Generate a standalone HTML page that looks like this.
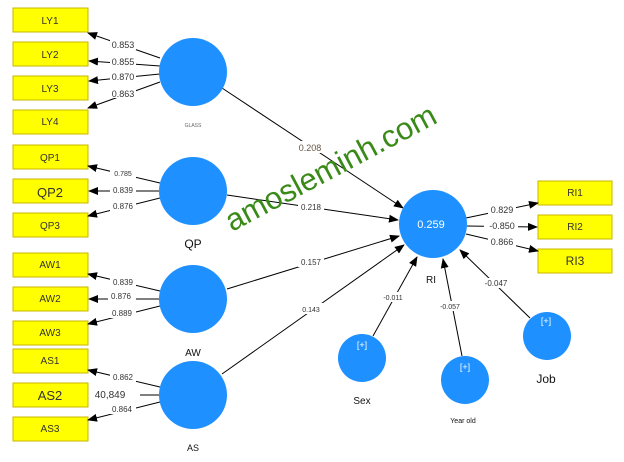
<!DOCTYPE html>
<html><head><meta charset="utf-8"><style>
html,body{margin:0;padding:0;background:#fff;}
svg{display:block;font-family:"Liberation Sans",Arial,sans-serif;}
.b{fill:#ffff00;stroke:#c8b400;stroke-width:1}
.c{fill:#1e90ff}
.l{stroke:#000;stroke-width:1;fill:none}
.t{font-size:9px;fill:#333;text-anchor:middle}
.bt{font-size:10px;fill:#333;text-anchor:middle}
.lb{fill:#fff}
</style></head><body>
<svg width="624" height="462" viewBox="0 0 624 462">
<defs><marker id="a" markerWidth="10" markerHeight="8" refX="9" refY="4" orient="auto" markerUnits="userSpaceOnUse"><path d="M0,0 L10,4 L0,8 z" fill="#000"/></marker></defs>
<!-- boxes -->
<g>
<rect class="b" x="13" y="8" width="75" height="24"/><text class="bt" x="50" y="24">LY1</text>
<rect class="b" x="13" y="42" width="75" height="24"/><text class="bt" x="50" y="58" font-size="9">LY2</text>
<rect class="b" x="13" y="76" width="75" height="24"/><text class="bt" x="50" y="92">LY3</text>
<rect class="b" x="13" y="110" width="75" height="24"/><text class="bt" x="50" y="125" font-size="9">LY4</text>
<rect class="b" x="13" y="145" width="75" height="24"/><text class="bt" x="50" y="161">QP1</text>
<rect class="b" x="13" y="179" width="75" height="24"/><text class="bt" x="50" y="197" style="font-size:13px">QP2</text>
<rect class="b" x="13" y="213" width="75" height="24"/><text class="bt" x="50" y="229">QP3</text>
<rect class="b" x="13" y="253" width="75" height="24"/><text class="bt" x="50" y="268" font-size="9">AW1</text>
<rect class="b" x="13" y="287" width="75" height="24"/><text class="bt" x="50" y="302">AW2</text>
<rect class="b" x="13" y="321" width="75" height="24"/><text class="bt" x="50" y="336">AW3</text>
<rect class="b" x="13" y="349" width="75" height="24"/><text class="bt" x="50" y="364" font-size="9">AS1</text>
<rect class="b" x="13" y="383" width="75" height="24"/><text class="bt" x="50" y="400" style="font-size:13px">AS2</text>
<rect class="b" x="13" y="417" width="75" height="24"/><text class="bt" x="50" y="432">AS3</text>
<rect class="b" x="538" y="181" width="74" height="24"/><text class="bt" x="575" y="196" font-size="9">RI1</text>
<rect class="b" x="538" y="215" width="74" height="24"/><text class="bt" x="575" y="230" font-size="9">RI2</text>
<rect class="b" x="538" y="249" width="74" height="24"/><text class="bt" x="575" y="265" style="font-size:12px">RI3</text>
</g>
<!-- outer loadings -->
<g class="l">
<line x1="160" y1="58" x2="88" y2="33" marker-end="url(#a)"/>
<line x1="160" y1="66" x2="89" y2="61" marker-end="url(#a)"/>
<line x1="160" y1="74" x2="89" y2="81" marker-end="url(#a)"/>
<line x1="160" y1="82" x2="88" y2="108" marker-end="url(#a)"/>
<line x1="160" y1="183" x2="88" y2="166" marker-end="url(#a)"/>
<line x1="160" y1="191" x2="89" y2="191" marker-end="url(#a)"/>
<line x1="160" y1="198" x2="88" y2="216" marker-end="url(#a)"/>
<line x1="160" y1="291" x2="88" y2="274" marker-end="url(#a)"/>
<line x1="160" y1="299" x2="89" y2="299" marker-end="url(#a)"/>
<line x1="160" y1="306" x2="88" y2="324" marker-end="url(#a)"/>
<line x1="160" y1="387" x2="88" y2="370" marker-end="url(#a)"/>
<line x1="160" y1="395" x2="140" y2="395"/>
<line x1="160" y1="402" x2="88" y2="420" marker-end="url(#a)"/>
<line x1="466" y1="218" x2="538" y2="203" marker-end="url(#a)"/>
<line x1="467" y1="226" x2="537" y2="227" marker-end="url(#a)"/>
<line x1="466" y1="234" x2="538" y2="251" marker-end="url(#a)"/>
<!-- inner paths -->
<line x1="222" y1="88" x2="403" y2="208" marker-end="url(#a)"/>
<line x1="227" y1="195" x2="398" y2="220" marker-end="url(#a)"/>
<line x1="227" y1="289" x2="399" y2="236" marker-end="url(#a)"/>
<line x1="222" y1="374" x2="404" y2="245" marker-end="url(#a)"/>
<line x1="373" y1="336" x2="417" y2="257" marker-end="url(#a)"/>
<line x1="462" y1="356" x2="443" y2="259" marker-end="url(#a)"/>
<line x1="530" y1="318" x2="460" y2="250" marker-end="url(#a)"/>
</g>
<!-- circles -->
<circle class="c" cx="193" cy="72" r="34"/>
<circle class="c" cx="193" cy="191" r="34"/>
<circle class="c" cx="193" cy="299" r="34"/>
<circle class="c" cx="193" cy="395" r="34"/>
<circle class="c" cx="433" cy="224" r="34"/>
<circle class="c" cx="362" cy="358" r="24"/>
<circle class="c" cx="465" cy="380" r="24"/>
<circle class="c" cx="547" cy="336" r="24"/>
<text x="431" y="228" style="font-size:11px;fill:#fff;text-anchor:middle">0.259</text>
<text x="362" y="348" style="font-size:9px;fill:#fff;text-anchor:middle">[+]</text>
<text x="465" y="370" style="font-size:9px;fill:#fff;text-anchor:middle">[+]</text>
<text x="546" y="324" style="font-size:9px;fill:#fff;text-anchor:middle">[+]</text>
<!-- construct labels -->
<text x="193" y="127" style="font-size:5px;fill:#666;text-anchor:middle">GLASS</text>
<text x="193" y="248" style="font-size:12px;fill:#111;text-anchor:middle">QP</text>
<text x="193" y="356" style="font-size:10px;fill:#111;text-anchor:middle">AW</text>
<text x="193" y="451" style="font-size:9px;fill:#111;text-anchor:middle">AS</text>
<text x="431" y="283" style="font-size:10px;fill:#111;text-anchor:middle">RI</text>
<text x="362" y="404" style="font-size:10px;fill:#111;text-anchor:middle">Sex</text>
<text x="463" y="423" style="font-size:7px;fill:#111;text-anchor:middle">Year old</text>
<text x="546" y="383" style="font-size:12px;fill:#111;text-anchor:middle">Job</text>
<!-- loading labels -->
<g class="t">
<rect class="lb" x="110" y="40" width="26" height="10"/><text x="123" y="48">0.853</text>
<rect class="lb" x="110" y="57" width="26" height="10"/><text x="123" y="65">0.855</text>
<rect class="lb" x="110" y="72" width="26" height="10"/><text x="123" y="80">0.870</text>
<rect class="lb" x="110" y="88" width="26" height="10"/><text x="123" y="97">0.863</text>
<rect class="lb" x="110" y="168" width="26" height="10"/><text x="123" y="176" style="font-size:7px">0.785</text>
<rect class="lb" x="110" y="185" width="26" height="10"/><text x="123" y="193" style="font-size:8px">0.839</text>
<rect class="lb" x="110" y="201" width="26" height="10"/><text x="123" y="209" style="font-size:8px">0.876</text>
<rect class="lb" x="110" y="277" width="26" height="10"/><text x="123" y="285" style="font-size:8px">0.839</text>
<rect class="lb" x="108" y="292" width="28" height="10"/><text x="121" y="299" style="font-size:8px">0.876</text>
<rect class="lb" x="108" y="308" width="28" height="10"/><text x="122" y="316" style="font-size:8px">0.889</text>
<rect class="lb" x="110" y="372" width="26" height="10"/><text x="123" y="380" style="font-size:8px">0.862</text>
<rect class="lb" x="92" y="388" width="46" height="12"/><text x="110" y="398" style="font-size:10px">40,849</text>
<rect class="lb" x="108" y="404" width="28" height="10"/><text x="122" y="412" style="font-size:8px">0.864</text>
<rect class="lb" x="295" y="141" width="30" height="12"/><text x="310" y="151" style="font-size:9px;fill:#654">0.208</text>
<rect class="lb" x="298" y="201" width="26" height="11"/><text x="311" y="210" style="font-size:8px">0.218</text>
<rect class="lb" x="298" y="256" width="26" height="11"/><text x="311" y="265" style="font-size:8px">0.157</text>
<rect class="lb" x="298" y="303" width="26" height="11"/><text x="311" y="312" style="font-size:7px">0.143</text>
<rect class="lb" x="380" y="292" width="28" height="10"/><text x="393" y="300" style="font-size:7px">-0.011</text>
<rect class="lb" x="437" y="301" width="28" height="10"/><text x="450" y="309" style="font-size:7px">-0.057</text>
<rect class="lb" x="482" y="278" width="28" height="10"/><text x="496" y="286" style="font-size:8px">-0.047</text>
<rect class="lb" x="488" y="203" width="28" height="11"/><text x="502" y="213">0.829</text>
<rect class="lb" x="484" y="220" width="34" height="11"/><text x="502" y="229">-0.850</text>
<rect class="lb" x="488" y="236" width="28" height="11"/><text x="502" y="245">0.866</text>
</g>
<text x="232" y="232" transform="rotate(-28 232 232)" style="font-size:31px;fill:#3a8a18">amosleminh.com</text>
</svg>
</body></html>
